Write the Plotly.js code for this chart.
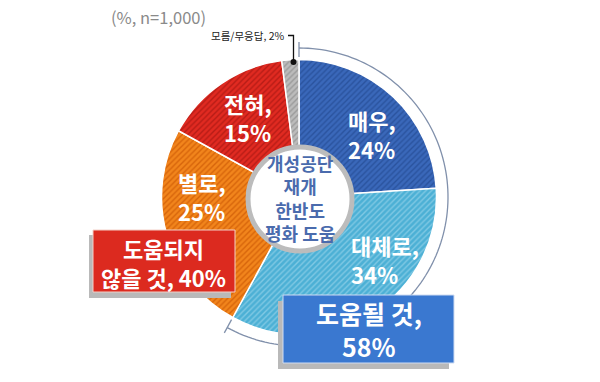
<!DOCTYPE html>
<html><head><meta charset="utf-8">
<script src="https://cdn.plot.ly/plotly-3.0.1.min.js"></script>
<style>html,body{margin:0;padding:0;background:#fff;}#chart{width:600px;height:382px;}</style>
</head><body><div id="chart"></div>
<script>
// ---- data ----
const labels = ['매우', '대체로', '별로', '전혀', '모름/무응답'];
const values = [24, 34, 25, 15, 2];
const groupHelpful = ['도움될 것'];
const groupNotHelpful = ['도움되지', '않을 것'];
const centerText = ['개성공단', '재개', '한반도', '평화 도움'];
const titleText = '(%, n=1,000)';

// ---- styles ----
const W = 600, H = 382;
const baseColors = ['#3a68ba', '#4cb0d5', '#f2851c', '#e12a21', '#bcbcbc'];
const stripeColors = ['#2a539e', '#80c9e4', '#d7650b', '#b71c16', '#9a9a9a'];
const FONT = '"Noto Sans CJK KR", "Noto Sans", sans-serif';
const cx = 299, cy = 197, R = 137.5;
const px = x => x / W;
const py = y => 1 - y / H;

const helpful = values[0] + values[1];
const notHelpful = values[2] + values[3];
const total = values.reduce((a, b) => a + b, 0);

const trace = {
  type: 'pie',
  values: values,
  labels: labels,
  sort: false,
  direction: 'clockwise',
  rotation: 0,
  hole: 0.37,
  textinfo: 'none',
  hoverinfo: 'label+percent',
  showlegend: false,
  domain: {x: [px(cx - R), px(cx + R)], y: [py(cy + R), py(cy - R)]},
  marker: {
    colors: baseColors,
    line: {color: '#ffffff', width: 1.5},
    pattern: {shape: '/', bgcolor: baseColors, fgcolor: stripeColors, size: 4, solidity: 0.35, fillmode: 'replace'}
  }
};

// arc for "helpful" group
const Ra = 149;
const endAng = helpful / total * 2 * Math.PI;
let pts = [];
const N = 120;
for (let i = 0; i <= N; i++) {
  const a = endAng * i / N;
  pts.push([cx + Ra * Math.sin(a), cy - Ra * Math.cos(a)]);
}
const arcPath = 'M' + pts.map(p => px(p[0]).toFixed(5) + ',' + py(p[1]).toFixed(5)).join(' L');
function tick(a) {
  const r1 = Ra - 9, r2 = Ra + 6;
  return {type: 'line', xref: 'paper', yref: 'paper',
    x0: px(cx + r1 * Math.sin(a)), y0: py(cy - r1 * Math.cos(a)),
    x1: px(cx + r2 * Math.sin(a)), y1: py(cy - r2 * Math.cos(a)),
    line: {color: '#8090ab', width: 1.3}};
}

function rect(x0, y0, x1, y1, fill, lineColor, lw) {
  return {type: 'rect', xref: 'paper', yref: 'paper', x0: px(x0), x1: px(x1), y0: py(y1), y1: py(y0),
    fillcolor: fill, line: {color: lineColor, width: lw}, layer: 'above'};
}

const shapes = [
  {type: 'path', xref: 'paper', yref: 'paper', path: arcPath, line: {color: '#8090ab', width: 1.3}},
  tick(0), tick(endAng),
  // center circle
  {type: 'circle', xref: 'paper', yref: 'paper', x0: px(cx + 1 - 52), x1: px(cx + 1 + 52), y0: py(cy + 2 + 52), y1: py(cy + 2 - 52),
    fillcolor: '#ffffff', line: {color: '#bcbcbc', width: 5}},
  // red box + shadow
  rect(89, 235, 231, 298, '#b9b9b9', 'rgba(0,0,0,0)', 0),
  rect(93, 230, 235, 292, '#dc2a1f', '#f3d0c8', 1),
  // blue box + shadow
  rect(278, 301, 449, 369, '#b9b9b9', 'rgba(0,0,0,0)', 0),
  rect(283, 295, 454, 363, '#3a78d0', '#cfdcf2', 1),
  // leader for 모름
  {type: 'path', xref: 'paper', yref: 'paper', path: 'M' + px(288) + ',' + py(35.5) + ' L' + px(293.5) + ',' + py(35.5) + ' L' + px(293.5) + ',' + py(62), line: {color: '#111', width: 1.3}},
  {type: 'circle', xref: 'paper', yref: 'paper', x0: px(290.5), x1: px(296.5), y0: py(65), y1: py(59), fillcolor: '#111', line: {width: 0}}
];

const white = '#ffffff';
function ann(text, x, y, size, color, opts) {
  return Object.assign({xref: 'paper', yref: 'paper', x: px(x), y: py(y), text: text, showarrow: false,
    xanchor: 'left', yanchor: 'middle', align: 'left',
    font: {family: FONT, size: size, color: color, weight: 'bold'}}, opts || {});
}
const sliceLabelPos = [[346, 134], [349, 259], [176, 196], [222, 117]];
const annotations = [];
for (let i = 0; i < 4; i++) {
  annotations.push(ann('<b>' + labels[i] + ',<br>' + values[i] + '%</b>', sliceLabelPos[i][0], sliceLabelPos[i][1], 22, white));
}
annotations.push(ann('<b>' + centerText.join('<br>') + '</b>', cx + 1, cy + 1, 18, '#4a6bad', {xanchor: 'center', align: 'center'}));
annotations.push(ann('<b>' + groupNotHelpful[0] + '<br>' + groupNotHelpful[1] + ', ' + notHelpful + '%</b>', 163, 262, 22, white, {xanchor: 'center', align: 'center'}));
annotations.push(ann('<b>' + groupHelpful[0] + ',<br>' + helpful + '%</b>', 368.5, 329, 25, white, {xanchor: 'center', align: 'center'}));
annotations.push(ann(labels[4] + ', ' + values[4] + '%', 287, 35.5, 10.5, '#222', {xanchor: 'right', font: {family: FONT, size: 10.5, color: '#222'}}));

const layout = {
  width: W, height: H,
  margin: {l: 0, r: 0, t: 0, b: 0},
  paper_bgcolor: '#ffffff',
  title: {text: titleText, x: px(111), xanchor: 'left', y: py(18), yanchor: 'middle', xref: 'paper', yref: 'paper',
    font: {family: FONT, size: 16.5, color: '#8a8a8a'}},
  shapes: shapes,
  annotations: annotations,
  showlegend: false
};

Plotly.newPlot('chart', [trace], layout, {displayModeBar: false, staticPlot: true});
</script>
</body></html>
